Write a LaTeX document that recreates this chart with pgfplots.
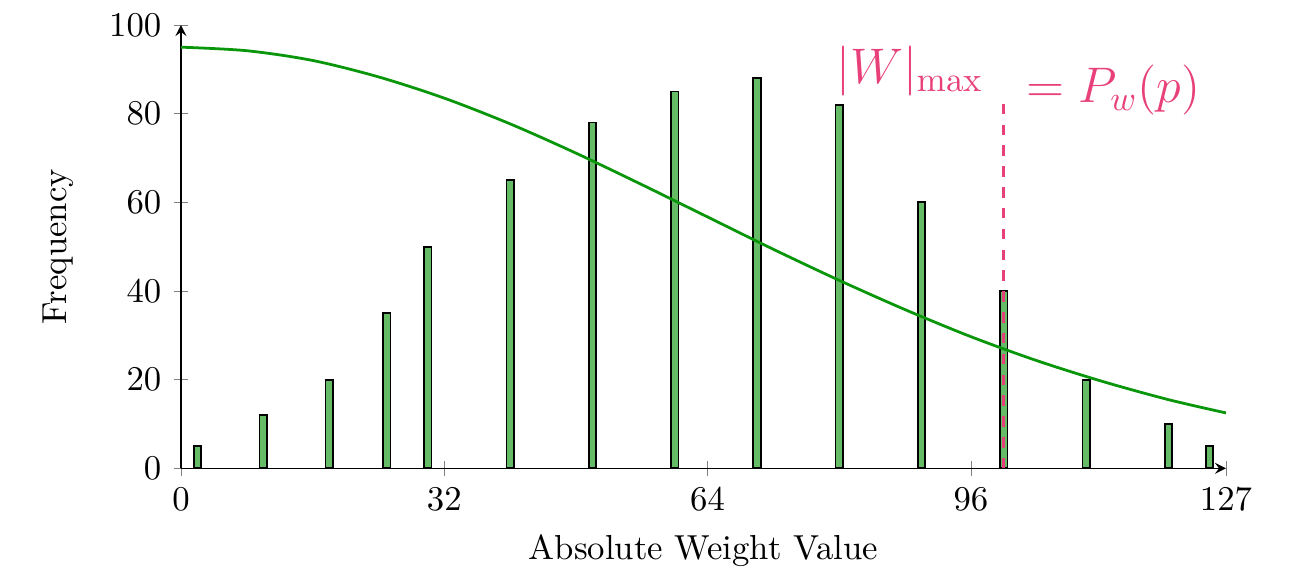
\documentclass[border=0pt]{standalone}
\usepackage{pgfplots}
\pgfplotsset{compat=1.18}
\definecolor{barfill}{RGB}{102,187,102}
\definecolor{curvegreen}{RGB}{10,150,10}
\definecolor{pinkann}{RGB}{232,64,122}
\begin{document}
\begin{tikzpicture}
\begin{axis}[
  scale only axis,
  width=301pt, height=127.7pt,
  axis lines=left,
  xmin=0, xmax=127, ymin=0, ymax=100,
  xtick={0,32,64,96,127},
  ytick={0,20,40,60,80,100},
  xlabel={Absolute Weight Value},
  ylabel={Frequency},
  ylabel style={yshift=3.5pt},
  clip=false,
]
\addplot[ybar, bar width=0.9, fill=barfill, draw=black, line width=0.5pt] coordinates {
 (2,5) (10,12) (18,20) (25,35) (30,50) (40,65) (50,78) (60,85)
 (70,88) (80,82) (90,60) (100,40) (110,20) (120,10) (125,5)
};
\addplot[curvegreen, thick, smooth, no marks] coordinates {
 (0,95) (8,94.2) (16,92.0) (24,88.3) (32,83.5) (40,77.7) (48,71.1)
 (56,64.0) (64,56.7) (72,49.4) (80,42.4) (88,35.8) (96,29.7)
 (104,24.3) (112,19.6) (120,15.5) (127,12.5)
};
\addplot[pinkann, thick, dashed, no marks] coordinates {(100,0) (100,84)};
\node[pinkann, anchor=east, font=\Large] at (axis cs:99.0,89.6) {$|W|_{\max}$};
\node[pinkann, anchor=west, font=\Large] at (axis cs:101.3,85.3) {$= P_w(p)$};
\path (rel axis cs:-0.1732,-0.228) rectangle (rel axis cs:1.0632,1.0564);
\end{axis}
\end{tikzpicture}
\end{document}
